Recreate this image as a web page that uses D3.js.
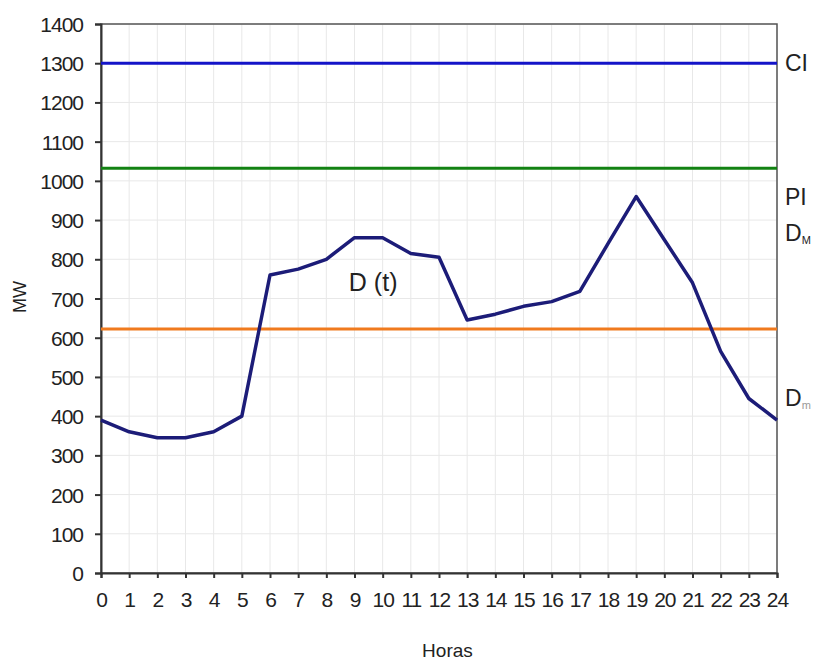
<!DOCTYPE html>
<html>
<head>
<meta charset="utf-8">
<script src="https://cdn.jsdelivr.net/npm/d3@7"></script>
<style>
  body { margin: 0; background: #fff; }
  text { font-family: "Liberation Sans", Arial, sans-serif; }
</style>
</head>
<body>
<script>
// Data
var hours = d3.range(0, 25);
var demand = [390, 360, 345, 345, 360, 400, 760, 775, 800, 855, 855, 815, 805,
              645, 660, 680, 692, 718, 840, 960, 850, 740, 565, 445, 390];
var yTicks = [0, 100, 200, 300, 400, 500, 600, 700, 800, 900, 1000, 1100, 1200, 1300, 1400];
var levelNames = ["CI", "PI", "Dm"];
var levelValues = [1300, 1032, 622];
var levelColors = ["#1414c8", "#128212", "#f07a1e"];

var svgWidth = 818;
var svgHeight = 660;

var margin = { top: 24, right: 41, bottom: 87, left: 101 };
var chartWidth = svgWidth - margin.left - margin.right;
var chartHeight = svgHeight - margin.top - margin.bottom;

var svg = d3.select("body")
    .append("svg")
    .attr("width", svgWidth)
    .attr("height", svgHeight);

var chartGroup = svg.append("g")
    .attr("transform", `translate(${margin.left}, ${margin.top})`);

var x = d3.scaleLinear().domain([0, 24]).range([0, chartWidth]);
var y = d3.scaleLinear().domain([0, 1400]).range([chartHeight, 0]);

// light grid
chartGroup.append("g")
    .selectAll("line")
    .data(hours)
    .enter()
    .append("line")
    .attr("x1", d => x(d)).attr("x2", d => x(d))
    .attr("y1", 0).attr("y2", chartHeight)
    .attr("stroke", "#e8e8e8").attr("stroke-width", 1);

chartGroup.append("g")
    .selectAll("line")
    .data(yTicks)
    .enter()
    .append("line")
    .attr("x1", 0).attr("x2", chartWidth)
    .attr("y1", d => y(d)).attr("y2", d => y(d))
    .attr("stroke", "#e8e8e8").attr("stroke-width", 1);

// frame
chartGroup.append("rect")
    .attr("width", chartWidth)
    .attr("height", chartHeight)
    .attr("fill", "none")
    .attr("stroke", "#555")
    .attr("stroke-width", 1.5);

// axes
var bottomAxis = d3.axisBottom(x).tickValues(hours).tickSize(5).tickPadding(14)
    .tickFormat(d3.format("d"));
var leftAxis = d3.axisLeft(y).tickValues(yTicks).tickSize(6).tickPadding(12)
    .tickFormat(d3.format("d"));

var xAxis = chartGroup.append("g")
    .attr("transform", `translate(0, ${chartHeight})`)
    .call(bottomAxis);
var yAxis = chartGroup.append("g").call(leftAxis);

[xAxis, yAxis].forEach(function (ax) {
    ax.select(".domain").attr("stroke", "#333").attr("stroke-width", 2);
    ax.selectAll(".tick line").attr("stroke", "#333").attr("stroke-width", 2);
    ax.selectAll(".tick text")
        .attr("fill", "#222")
        .style("font-size", "21px")
        .style("letter-spacing", "-1px");
});
yAxis.selectAll(".tick text").attr("dy", "0.36em");

// horizontal levels
chartGroup.selectAll(".level")
    .data(levelValues)
    .enter()
    .append("line")
    .attr("class", "level")
    .attr("x1", 0).attr("x2", chartWidth)
    .attr("y1", d => y(d)).attr("y2", d => y(d))
    .attr("stroke", (d, i) => levelColors[i])
    .attr("stroke-width", 3);

// demand curve
var line = d3.line()
    .x((d, i) => x(hours[i]))
    .y(d => y(d));

chartGroup.append("path")
    .datum(demand)
    .attr("d", line)
    .attr("fill", "none")
    .attr("stroke", "#1c1c78")
    .attr("stroke-width", 3.5)
    .attr("stroke-linejoin", "round");

// labels on the right
var rx = chartWidth + 8;
chartGroup.append("text").attr("x", rx).attr("y", y(1300) + 8)
    .attr("fill", "#222").style("font-size", "23px").text("CI");
chartGroup.append("text").attr("x", rx).attr("y", y(960) + 8)
    .attr("fill", "#222").style("font-size", "23px").text("PI");

var dM = chartGroup.append("text").attr("x", rx).attr("y", y(868) + 8)
    .attr("fill", "#222").style("font-size", "23px");
dM.append("tspan").text("D");
dM.append("tspan").attr("dy", 3).style("font-size", "11px").text("M");

var dm = chartGroup.append("text").attr("x", rx).attr("y", y(447) + 8)
    .attr("fill", "#222").style("font-size", "23px");
dm.append("tspan").text("D");
dm.append("tspan").attr("dy", 3).style("font-size", "11px").attr("fill", "#999").text("m");

// curve label
chartGroup.append("text")
    .attr("x", x(8.8))
    .attr("y", y(718))
    .attr("fill", "#222")
    .style("font-size", "25px")
    .text("D (t)");

// axis titles
chartGroup.append("text")
    .attr("transform", "rotate(-90)")
    .attr("x", 0 - y(704))
    .attr("y", -75)
    .attr("text-anchor", "middle")
    .attr("fill", "#222")
    .style("font-size", "18px")
    .text("MW");

chartGroup.append("text")
    .attr("x", x(12.3))
    .attr("y", chartHeight + 84)
    .attr("text-anchor", "middle")
    .attr("fill", "#222")
    .style("font-size", "19px")
    .text("Horas");
</script>
</body>
</html>
